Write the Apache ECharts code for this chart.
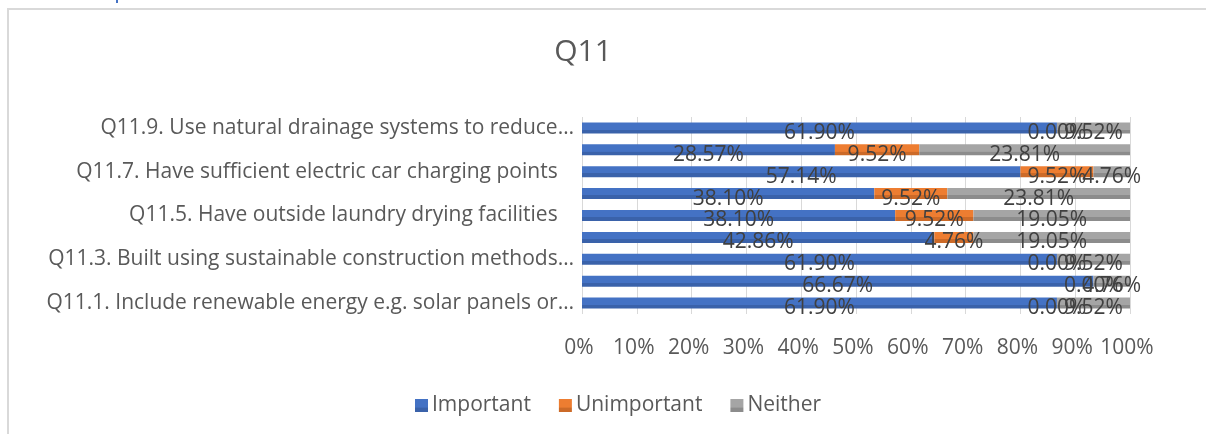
<!DOCTYPE html>
<html>
<head>
<meta charset="utf-8">
<script src="https://cdn.jsdelivr.net/npm/echarts@6/dist/echarts.min.js"></script>
<style>html,body{margin:0;padding:0;background:#fff}#c{width:1206px;height:434px}</style>
</head>
<body>
<div id="c"></div>
<script>
const categories = [
  "Q11.1. Include renewable energy e.g. solar panels or\u2026",
  "Q11.2",
  "Q11.3. Built using sustainable construction methods\u2026",
  "Q11.4",
  "Q11.5. Have outside laundry drying facilities   ",
  "Q11.6",
  "Q11.7. Have sufficient electric car charging points   ",
  "Q11.8",
  "Q11.9. Use natural drainage systems to reduce\u2026"
];
const important   = [61.90, 66.67, 61.90, 42.86, 38.10, 38.10, 57.14, 28.57, 61.90];
const unimportant = [0.00, 0.00, 0.00, 4.76, 9.52, 9.52, 9.52, 9.52, 0.00];
const neither     = [9.52, 4.76, 9.52, 19.05, 19.05, 23.81, 4.76, 23.81, 9.52];
const seriesNames = ["Important", "Unimportant", "Neither"];
const xTicks = [0, 10, 20, 30, 40, 50, 60, 70, 80, 90, 100];

const raw = [important, unimportant, neither];
const totals = categories.map((_, i) => important[i] + unimportant[i] + neither[i]);
const colors = [["#4472C4", "#3A62AA"], ["#ED7D31", "#CC6A28"], ["#A5A5A5", "#8C8C8C"]];
const FONT = "'Open Sans', 'Noto Sans', sans-serif";

const chart = echarts.init(document.getElementById('c'));
chart.setOption({
  animation: false,
  backgroundColor: '#ffffff',
  title: {
    text: 'Q11', left: 578, top: 32, textAlign: 'center',
    textStyle: { fontFamily: FONT, fontSize: 30, fontWeight: 'normal', color: '#595959' }
  },
  legend: {
    bottom: 13, left: 410, itemWidth: 13, itemHeight: 13, itemGap: 28,
    icon: 'rect',
    textStyle: { fontFamily: FONT, fontSize: 21, color: '#595959', padding: [0, 0, 0, -1] },
    data: seriesNames
  },
  grid: { left: 582, right: 76, top: 117, bottom: 120, containLabel: false },
  xAxis: {
    type: 'value', min: 0, max: 100, interval: 10,
    axisLine: { show: false }, axisTick: { show: false },
    splitLine: { lineStyle: { color: '#D9D9D9', width: 1 } },
    axisLabel: {
      formatter: v => xTicks.includes(v) ? v + '%' : '',
      fontFamily: FONT, fontSize: 21, color: '#595959', margin: 24, padding: [0, 6, 0, 0]
    }
  },
  yAxis: {
    type: 'category', data: categories,
    axisLine: { show: false }, axisTick: { show: false },
    axisLabel: { interval: 1, fontFamily: FONT, fontSize: 21, color: '#595959', margin: 8 }
  },
  graphic: [
    { type: 'rect', shape: { x: 8, y: 9, width: 1210, height: 440 }, style: { fill: 'none', stroke: '#D9D9D9', lineWidth: 2 }, silent: true },
    { type: 'rect', shape: { x: 116, y: 0, width: 2, height: 3 }, style: { fill: '#4472C4' }, silent: true }
  ],
  series: seriesNames.map((name, s) => ({
    name, type: 'bar', stack: 'total', barWidth: 11,
    itemStyle: {
      color: new echarts.graphic.LinearGradient(0, 0, 0, 1, [
        { offset: 0, color: colors[s][0] }, { offset: 0.65, color: colors[s][0] },
        { offset: 0.66, color: colors[s][1] }, { offset: 1, color: colors[s][1] }
      ])
    },
    label: {
      show: true, position: 'inside', offset: [0, 5],
      fontFamily: FONT, fontSize: 21, color: '#404040',
      formatter: p => raw[s][p.dataIndex].toFixed(2) + '%'
    },
    data: raw[s].map((v, i) => v / totals[i] * 100)
  }))
});
</script>
</body>
</html>
